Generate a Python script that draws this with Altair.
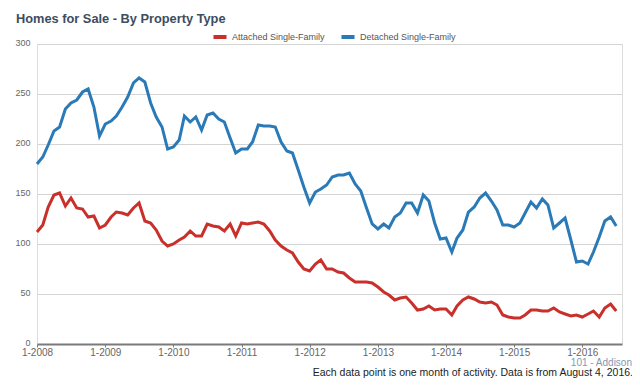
import altair as alt
import pandas as pd

# Monthly points, Jan 2008 .. Jul 2016
months = [f"{2008 + i // 12}-{i % 12 + 1:02d}-01T00:00:00" for i in range(103)]

attached = [112, 119, 137, 149, 151, 138, 146, 136, 135, 127, 128, 116,
            119, 127, 132, 131, 129, 136, 141, 123, 121, 114, 103, 98,
            100, 104, 107, 113, 108, 108, 120, 118, 117, 113, 120, 108,
            121, 120, 121, 122, 120, 113, 104, 98, 94, 91, 82, 75,
            73, 80, 84, 75, 75, 72, 71, 66, 62, 62, 62, 61,
            57, 52, 49, 44, 46, 47, 41, 34, 35, 38, 34, 35,
            35, 29, 38, 44, 47, 45, 42, 41, 42, 39, 29, 27,
            26, 26, 29, 34, 34, 33, 33, 36, 32, 30, 28, 29,
            27, 30, 33, 27, 36, 40, 33]

detached = [180, 187, 199, 213, 217, 235, 241, 244, 252, 255, 237, 208,
            220, 223, 228, 237, 247, 261, 266, 262, 241, 227, 217, 195,
            197, 204, 228, 222, 227, 214, 229, 231, 225, 222, 206, 191,
            195, 195, 202, 219, 218, 218, 217, 202, 193, 191, 174, 157,
            141, 152, 155, 159, 167, 169, 169, 171, 160, 153, 136, 120,
            115, 120, 116, 127, 131, 141, 141, 131, 149, 143, 121, 105,
            106, 92, 106, 114, 132, 137, 146, 151, 143, 134, 119, 119,
            117, 121, 131, 142, 136, 145, 139, 116, 121, 126, 104, 82,
            83, 80, 92, 107, 123, 127, 118]

series_names = ["Attached Single-Family", "Detached Single-Family"]
colors = ["#c9302c", "#2a7ab8"]
year_ticks = list(range(2008, 2017))
y_ticks = [0, 50, 100, 150, 200, 250, 300]

df = pd.DataFrame({
    "date": months + months,
    "value": attached + detached,
    "type": [series_names[0]] * len(attached) + [series_names[1]] * len(detached),
})

FONT = "Liberation Sans"

lines = alt.Chart(df).mark_line(strokeWidth=3).encode(
    x=alt.X("date:T",
            scale=alt.Scale(domain=[alt.DateTime(year=2008, month=1, date=1),
                                    alt.DateTime(year=2016, month=8, date=1)]),
            axis=alt.Axis(title=None, format="%-m-%Y",
                          values=[alt.DateTime(year=y, month=1, date=1) for y in year_ticks],
                          labelFlush=False, labelOverlap=False, grid=False,
                          domainColor="#7a7a7a", domainWidth=2,
                          tickColor="#7a7a7a", tickSize=3, tickWidth=1,
                          labelColor="#666666", labelFontSize=10, labelFont=FONT,
                          labelPadding=0)),
    y=alt.Y("value:Q",
            scale=alt.Scale(domain=[0, 300], nice=False),
            axis=alt.Axis(title=None, values=y_ticks, domain=False, ticks=False,
                          gridColor="#d4d4d4", labelColor="#666666",
                          labelFontSize=9, labelFont=FONT, labelPadding=7,
                          labelOffset=-2)),
    color=alt.Color("type:N",
                    scale=alt.Scale(domain=series_names, range=colors),
                    legend=alt.Legend(title=None, orient="none", legendX=174, legendY=-16,
                                      direction="horizontal", symbolType="stroke",
                                      symbolStrokeWidth=4, symbolSize=170,
                                      labelFontSize=9, labelColor="#555555",
                                      labelFont=FONT, columnPadding=8,
                                      labelOffset=3, padding=0)),
)

one = pd.DataFrame({"k": [0]})

addison = alt.Chart(one).mark_text(
    text="101 - Addison", align="right", baseline="middle",
    fontSize=10, color="#7f9ab5", font=FONT
).encode(x=alt.value(595), y=alt.value(318.5))

footer = alt.Chart(one).mark_text(
    text="Each data point is one month of activity. Data is from August 4, 2016.",
    align="right", baseline="bottom", fontSize=10.5, color="#222222", font=FONT
).encode(x=alt.value(596), y=alt.value(334))

chart = alt.layer(lines, addison, footer).properties(
    width=585, height=300,
    title=alt.TitleParams("Homes for Sale - By Property Type", anchor="start",
                          frame="group", dx=-21, dy=2, offset=4,
                          fontSize=12.8, font=FONT, fontWeight="bold",
                          color="#3c4d60"),
    autosize=alt.AutoSizeParams(type="none"),
    padding={"left": 29, "top": 36, "right": 10, "bottom": 34},
).configure_view(stroke=None).configure(background="white")

chart.save("out.html", embed_options={"renderer": "svg", "actions": False})
